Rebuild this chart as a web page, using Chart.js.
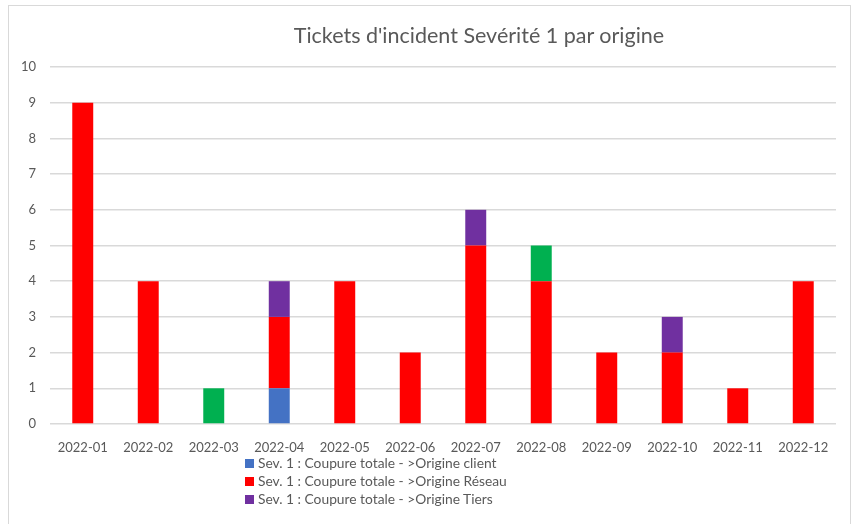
<!DOCTYPE html>
<html>
<head>
<meta charset="utf-8">
<script src="https://cdn.jsdelivr.net/npm/chart.js@4.4.1/dist/chart.umd.min.js"></script>
<style>
    html, body { margin: 0; padding: 0; background: #fff; overflow: hidden; }
    #wrap { position: relative; width: 854px; height: 524px; }
    #frame {
        position: absolute; left: 8px; top: 5px; width: 843px; height: 540px;
        border: 1px solid #d9d9d9; box-sizing: border-box; pointer-events: none;
    }
    #titre {
        position: absolute; top: 22px; left: 0; width: 958px; text-align: center;
        font-family: Lato, sans-serif; font-size: 21.5px; color: #595959;
    }
    #legende {
        position: absolute; left: 245px; top: 454px;
        font-family: Lato, sans-serif; font-size: 13.8px; color: #595959;
    }
    #legende div { height: 18px; line-height: 18px; white-space: nowrap; }
    #legende span {
        display: inline-block; width: 9px; height: 9px; margin-right: 4px;
    }
    canvas { position: absolute; left: 0; top: 0; }
</style>
</head>
<body>
<div id="wrap">
    <canvas id="chart" width="854" height="524"></canvas>
    <div id="titre">Tickets d'incident Sevérité 1 par origine</div>
    <div id="legende"></div>
    <div id="frame"></div>
</div>
<script>
const mois = ["2022-01", "2022-02", "2022-03", "2022-04", "2022-05", "2022-06",
    "2022-07", "2022-08", "2022-09", "2022-10", "2022-11", "2022-12"];

const origineClient = [0, 0, 0, 1, 0, 0, 0, 0, 0, 0, 0, 0];
const origineReseau = [9, 4, 0, 2, 4, 2, 5, 4, 2, 2, 1, 4];
const origineAutre  = [0, 0, 1, 0, 0, 0, 0, 1, 0, 0, 0, 0]; // vert, absent de la légende
const origineTiers  = [0, 0, 0, 1, 0, 0, 1, 0, 0, 1, 0, 0];

const series = [
    { label: "Sev. 1 : Coupure totale - >Origine client", data: origineClient, color: "#4472C4", legende: true },
    { label: "Sev. 1 : Coupure totale - >Origine Réseau", data: origineReseau, color: "#FF0000", legende: true },
    { label: "Sev. 1 : Coupure totale - >Origine Autre", data: origineAutre, color: "#00B050", legende: false },
    { label: "Sev. 1 : Coupure totale - >Origine Tiers", data: origineTiers, color: "#7030A0", legende: true },
];

// légende verticale en HTML
const leg = document.getElementById("legende");
series.filter(s => s.legende).forEach(s => {
    const row = document.createElement("div");
    row.innerHTML = '<span style="background:' + s.color + '"></span>' + s.label;
    leg.appendChild(row);
});

new Chart(document.getElementById("chart"), {
    type: "bar",
    data: {
        labels: mois,
        datasets: series.map(s => ({
            label: s.label,
            data: s.data,
            backgroundColor: s.color,
            borderWidth: 0,
            categoryPercentage: 1,
            barPercentage: 0.32,
        })),
    },
    options: {
        responsive: false,
        animation: false,
        layout: { padding: { left: 8, right: 18, top: 67, bottom: 0 } },
        plugins: {
            legend: { display: false },
            title: { display: false },
            tooltip: { enabled: false },
        },
        scales: {
            x: {
                stacked: true,
                grid: { display: false },
                border: { display: false },
                ticks: { color: "#595959", font: { family: "Lato", size: 13 }, padding: 8, maxRotation: 0 },
                afterFit: (scale) => { scale.height = 100; },
            },
            y: {
                stacked: true,
                min: 0,
                max: 10,
                grid: { color: "#d9d9d9", lineWidth: 1.5, drawTicks: false },
                border: { display: false },
                ticks: { stepSize: 1, color: "#595959", font: { family: "Lato", size: 13 }, padding: 14 },
                afterFit: (scale) => { scale.width = 42; },
            },
        },
    },
});
</script>
</body>
</html>
